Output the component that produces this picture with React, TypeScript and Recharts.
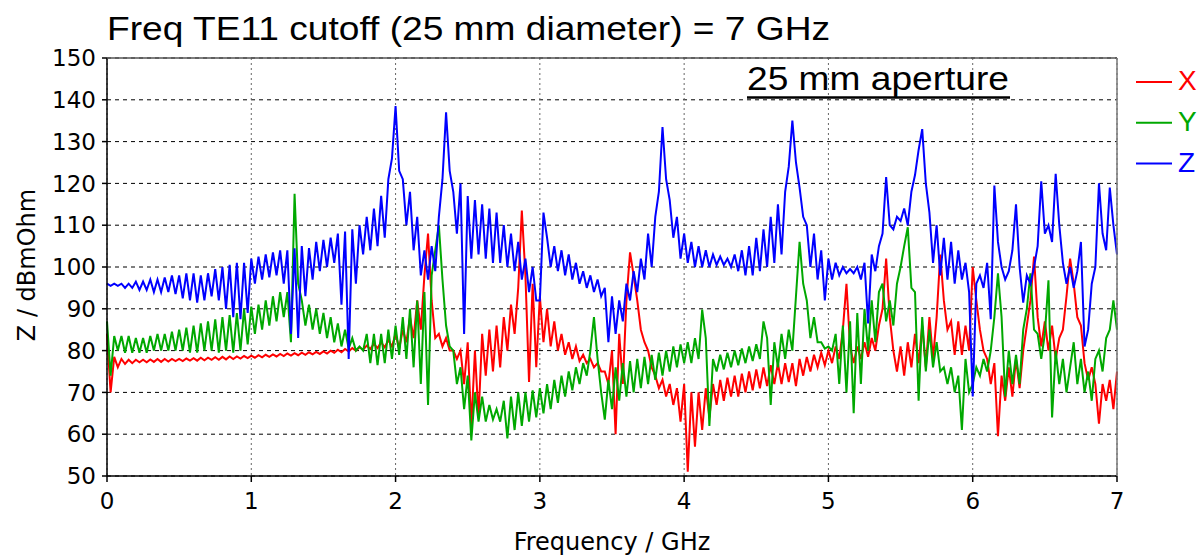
import React from 'react';
import { LineChart, Line, XAxis, YAxis, CartesianGrid } from 'recharts';

// frequency grid step in GHz (0 .. 7 GHz, 281 samples)
const FREQ_STEP = 0.025;

const X_TICKS = [0, 1, 2, 3, 4, 5, 6, 7];
const Y_TICKS = [50, 60, 70, 80, 90, 100, 110, 120, 130, 140, 150];

// X impedance, dBmOhm (one row = 0.25 GHz)
const X_DBMOHM = [
    84, 70, 78.5, 76, 78, 76.8, 77.8, 77, 77.8, 77.2,
    77.8, 77.2, 77.9, 77.3, 78, 77.3, 78, 77.4, 78, 77.5,
    78, 77.5, 78.1, 77.6, 78.2, 77.6, 78.3, 77.7, 78.3, 77.8,
    78.4, 77.8, 78.5, 77.9, 78.6, 78, 78.6, 78.1, 78.7, 78.2,
    78.8, 78.3, 78.9, 78.4, 79, 78.5, 79.1, 78.6, 79.2, 78.7,
    79.3, 78.8, 79.4, 78.9, 79.5, 79, 79.6, 79.1, 79.7, 79.2,
    79.8, 79.3, 80, 79.5, 80.2, 79.6, 80.4, 79.8, 80.6, 80,
    80.8, 80.2, 81.2, 80.4, 81.6, 80.6, 82, 80.8, 82.5, 81,
    84, 80.5, 85, 82, 88, 83, 92, 85, 98, 108,
    92, 83, 84, 81, 83, 80, 80, 78, 80, 72,
    82, 62, 80, 64, 84, 74, 85, 75, 86, 76,
    88, 80, 91, 84, 95, 113.5, 98, 72.5, 96, 76,
    93, 82, 90, 81, 87, 80, 84, 79, 82, 78,
    81, 77.5, 79, 77, 78, 76, 77, 75, 75, 72,
    80, 60, 84, 72, 92, 103.5, 98, 92, 85, 82,
    80, 76, 74, 71, 73, 69, 72, 67, 71, 63,
    72, 51, 70, 57, 70, 61, 71, 64, 72, 67,
    73, 68, 73.5, 69, 74, 69, 74.5, 70, 75, 70.5,
    75.5, 71, 76, 71.5, 76.5, 72, 77, 72, 77, 72.5,
    77, 71.5, 78, 74, 78.5, 75, 79, 76, 79.5, 76.5,
    80, 77, 81, 78, 85, 96, 81, 77, 81, 78,
    82, 78.5, 83, 80, 86, 90, 102, 88, 80, 75,
    81, 74, 82, 76, 84, 77, 86, 76, 88, 78,
    88, 103, 92, 85, 87, 79, 87, 79, 86, 80,
    100, 92, 85, 80, 78, 72, 77, 59.5, 74, 68,
    76, 69, 78, 71, 80, 86, 92, 102.5, 88, 81,
    87, 80, 86, 78, 83, 85, 93, 102, 96, 88,
    86, 77, 73, 76, 72, 62.5, 72, 68, 73, 66,
    75,
];

// Y impedance, dBmOhm
const Y_DBMOHM = [
    87, 74, 83.5, 80, 83.5, 79.5, 83.5, 79.5, 83, 79.5,
    83, 79.5, 83.5, 80, 84, 80, 84, 80, 84.5, 80,
    85, 80, 85.5, 79.5, 86, 79.5, 86.5, 80, 87, 80,
    87.5, 79.5, 88, 80, 88.5, 79.5, 89, 80, 90, 81.5,
    90.5, 84, 91, 85, 92, 86, 93, 87, 94, 88,
    94, 82, 117.5, 96, 92, 86, 91, 85, 90, 84,
    89, 83, 88, 82, 86.5, 81, 85, 80.5, 83, 80,
    81, 80, 84, 77, 84, 76.5, 84, 77, 85, 78,
    86, 79, 88, 78, 90, 76, 92, 72, 94, 67,
    98, 104, 110, 97, 86, 81, 80, 72, 76, 66,
    74, 58.5, 70, 63, 69, 63, 67, 63.5, 66, 63,
    68, 59, 69, 61, 70, 62, 70, 63, 70.5, 64,
    71, 65, 72, 66, 73, 67.5, 74, 69, 75, 70.5,
    76, 72, 77, 74, 80, 88, 78, 70, 63.5, 73,
    66, 76, 68, 77, 69, 77.5, 70, 78, 71, 78.5,
    72, 79, 73, 79.5, 74, 80, 75, 81, 76, 81.5,
    77, 82, 77, 83, 78, 89.8, 83, 62, 78, 75,
    79, 75.5, 79.5, 76, 80, 76.5, 80.5, 77, 81, 77.5,
    81.5, 78, 87, 83, 67, 82, 76, 84, 78, 85,
    80, 93, 106, 96, 92, 83, 88, 82, 82, 80.5,
    81, 80, 84, 72, 86, 70, 87, 65, 89, 72,
    90, 80, 92, 82, 94, 96, 87, 92, 86, 96,
    100, 105, 109.5, 95, 94, 68, 88, 75, 85, 76,
    82, 75, 76, 72, 76, 70, 74, 61, 78, 70,
    72, 76, 74, 78, 75, 80, 88, 98.5, 88, 69,
    80, 72, 79, 72, 85, 90, 98.5, 85, 84, 78,
    84, 96.8, 64, 80, 72, 78, 70, 76, 82, 72,
    78, 70, 75, 68, 78, 80, 75, 83, 85, 92,
    85,
];

// Z impedance, dBmOhm
const Z_DBMOHM = [
    96, 95.5, 96, 95.5, 96, 95, 96, 95, 96.5, 94.5,
    96.5, 94.5, 97, 94, 97, 94, 97.5, 94, 98, 93.5,
    98, 92.5, 98.5, 92, 98.5, 91.5, 98, 92, 98.5, 93,
    99.5, 92, 100, 90, 100.5, 88, 101, 87.5, 101, 89,
    102, 96, 102.5, 97, 103, 97.5, 103.5, 98, 104, 96,
    104, 84, 104.5, 83, 105, 93, 104.5, 97, 106, 99,
    106.5, 100, 107, 101, 108, 91, 108.5, 78, 109, 96,
    110, 103, 112, 104, 114, 105, 117, 107, 121, 126,
    138.5, 123, 121, 110, 118, 104, 112, 98, 104, 97,
    105, 99, 112, 121, 137, 123, 118, 108, 120, 84,
    117, 102, 116, 103, 115, 102, 114, 101, 113, 101,
    110, 100, 108, 99, 106, 97, 102, 94, 100, 92,
    92, 113, 107, 100, 105, 99, 104, 98, 103, 97,
    101, 96, 99, 95, 98, 94, 97, 93, 95, 82,
    93, 84, 92, 87, 96, 92, 99, 94, 102, 97,
    108, 100, 112, 118, 133.5, 121, 116, 107, 112, 102,
    108, 101, 106, 100, 105, 100, 104, 100, 103, 100.5,
    102.5, 100.5, 102, 100, 103, 99, 104, 98, 105, 98,
    107, 99, 109, 100, 112, 101, 115, 103, 118, 124,
    135, 125, 119, 112, 110, 100, 108, 97, 104, 92,
    102, 97, 101, 98, 100, 98.5, 99.5, 98.5, 100, 97,
    101, 86.5, 103, 99, 105, 108, 121.5, 110, 109, 112,
    111, 114, 110, 118, 122, 128, 133, 120, 113, 101,
    110, 98, 107, 97, 106, 96, 104, 97, 101, 94,
    69, 96, 98, 95, 101, 87.5, 119.5, 106, 100, 97,
    99, 104, 115, 100, 91.5, 98, 96, 100, 105, 120.5,
    108, 110, 106, 122.3, 110, 101, 96, 100, 95, 99,
    106, 81, 85, 96, 100, 120, 108, 104, 119, 110,
    103,
];

const SERIES = [
    { key: 'x', name: 'X', color: '#ff0000' },
    { key: 'y', name: 'Y', color: '#00a800' },
    { key: 'z', name: 'Z', color: '#0000ff' },
];

const data = Z_DBMOHM.map((z, i) => ({
    f: Number((i * FREQ_STEP).toFixed(3)),
    x: X_DBMOHM[i],
    y: Y_DBMOHM[i],
    z,
}));

const axisFont = { fontFamily: '"DejaVu Sans", sans-serif', fontSize: 23, fill: '#000' };
const textFont = '"Liberation Sans", Arial, sans-serif';

export default function App() {
    return (
        <div style={{ position: 'absolute', left: 0, top: 0, width: 1197, height: 556, background: '#fff' }}>
            <LineChart
                width={1197}
                height={556}
                data={data}
                margin={{ top: 58, right: 80, bottom: 40, left: 47 }}
            >
                <CartesianGrid vertical={false} stroke="#000" strokeDasharray="4 4" />
                <CartesianGrid horizontal={false} stroke="#666" strokeDasharray="2 3" />
                <XAxis
                    type="number"
                    dataKey="f"
                    domain={[0, 7]}
                    ticks={X_TICKS}
                    height={40}
                    tick={axisFont}
                    tickSize={6}
                    tickMargin={11}
                    stroke="#000"
                    strokeWidth={1.5}
                />
                <YAxis
                    type="number"
                    domain={[50, 150]}
                    ticks={Y_TICKS}
                    width={60}
                    tick={axisFont}
                    tickSize={5}
                    tickMargin={6}
                    stroke="#000"
                    strokeWidth={1.5}
                    allowDataOverflow
                />
                {SERIES.map((s) => (
                    <Line
                        key={s.key}
                        type="linear"
                        dataKey={s.key}
                        name={s.name}
                        stroke={s.color}
                        strokeWidth={2}
                        dot={false}
                        isAnimationActive={false}
                    />
                ))}
            </LineChart>

            {/* title, annotation, legend, axis labels, plot frame */}
            <svg
                width={1197}
                height={556}
                style={{ position: 'absolute', left: 0, top: 0, pointerEvents: 'none' }}
            >
                <line x1={107} y1={58} x2={1117} y2={58} stroke="#555" strokeWidth={1.5} />
                <line x1={1117} y1={58} x2={1117} y2={476} stroke="#777" strokeWidth={1.5} />

                <text x={107} y={40} fontFamily={textFont} fontSize={33} textLength={723} lengthAdjust="spacingAndGlyphs">
                    Freq TE11 cutoff (25 mm diameter) = 7 GHz
                </text>

                <text x={747} y={90} fontFamily={textFont} fontSize={33} textLength={262} lengthAdjust="spacingAndGlyphs">
                    25 mm aperture
                </text>
                <line x1={747} y1={97.5} x2={1010} y2={97.5} stroke="#000" strokeWidth={2.5} />

                {SERIES.map((s, i) => (
                    <g key={s.key}>
                        <line x1={1136} y1={82 + i * 40.8} x2={1172} y2={82 + i * 40.8} stroke={s.color} strokeWidth={2} />
                        <text x={1178} y={90 + i * 41} fontFamily={textFont} fontSize={28} fill={s.color}>
                            {s.name}
                        </text>
                    </g>
                ))}

                <text x={612} y={550} textAnchor="middle" {...axisFont} fontSize={24}>
                    Frequency / GHz
                </text>
                <text transform="translate(35,265) rotate(-90)" textAnchor="middle" {...axisFont} fontSize={24}>
                    Z / dBmOhm
                </text>
            </svg>
        </div>
    );
}
